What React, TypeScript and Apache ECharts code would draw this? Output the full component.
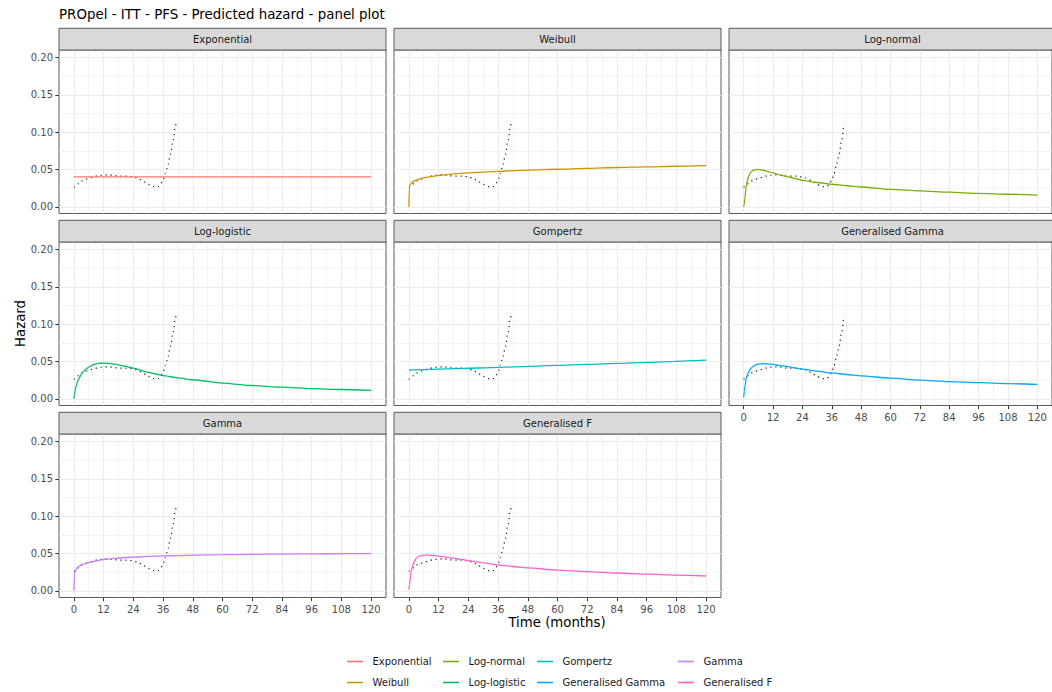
import React, { useEffect, useRef } from 'react';
import * as echarts from 'echarts';

const TITLE = 'PROpel - ITT - PFS - Predicted hazard - panel plot';
const X_TITLE = 'Time (months)';
const Y_TITLE = 'Hazard';

const MODEL_NAMES = ['Exponential', 'Weibull', 'Log-normal', 'Log-logistic', 'Gompertz', 'Generalised Gamma', 'Gamma', 'Generalised F'];
const MODEL_COLORS = ['#F8766D', '#CD9600', '#7CAE00', '#00BE67', '#00BFC4', '#00A9FF', '#C77CFF', '#FF61CC'];

// months at which the fitted hazards were read
const TIME_GRID = [0, 0.25, 0.5, 1, 1.5, 2, 3, 4, 5, 6, 8, 10, 12, 15, 18, 21, 24, 30, 36, 42, 48, 60, 72, 84, 96, 108, 120];

const exponential = [0.040, 0.040, 0.040, 0.040, 0.040, 0.040, 0.040, 0.040, 0.040, 0.040, 0.040, 0.040, 0.040, 0.040, 0.040, 0.040, 0.040, 0.040, 0.040, 0.040, 0.040, 0.040, 0.040, 0.040, 0.040, 0.040, 0.040];
const weibull = [0, 0.027, 0.0293, 0.0318, 0.0332, 0.0342, 0.0358, 0.037, 0.038, 0.0388, 0.040, 0.041, 0.042, 0.043, 0.044, 0.0448, 0.0455, 0.0465, 0.0475, 0.0483, 0.049, 0.0503, 0.0515, 0.0526, 0.0535, 0.0543, 0.055];
const logNormal = [0, 0.004, 0.012, 0.026, 0.035, 0.041, 0.0468, 0.049, 0.0498, 0.05, 0.0489, 0.0472, 0.0453, 0.0425, 0.040, 0.0378, 0.0355, 0.0325, 0.0302, 0.0282, 0.0265, 0.0232, 0.0212, 0.0195, 0.018, 0.0168, 0.0157];
const logLogistic = [0, 0.006, 0.011, 0.018, 0.023, 0.027, 0.033, 0.037, 0.040, 0.0425, 0.0458, 0.0474, 0.0478, 0.0472, 0.0455, 0.0433, 0.041, 0.0355, 0.031, 0.028, 0.0255, 0.021, 0.0178, 0.0155, 0.0137, 0.0124, 0.0113];
const gompertz = [0.0385, 0.0385, 0.0385, 0.0386, 0.0386, 0.0387, 0.0388, 0.0389, 0.039, 0.0391, 0.0393, 0.0395, 0.0397, 0.040, 0.0403, 0.0406, 0.0409, 0.0415, 0.0421, 0.0427, 0.0434, 0.0447, 0.046, 0.0474, 0.0488, 0.0502, 0.0517];
const genGamma = [0.002, 0.010, 0.017, 0.026, 0.032, 0.036, 0.041, 0.0438, 0.0455, 0.0465, 0.047, 0.0467, 0.046, 0.0445, 0.043, 0.0413, 0.0397, 0.037, 0.0346, 0.0325, 0.0307, 0.0276, 0.025, 0.0231, 0.0216, 0.0203, 0.0193];
const gamma = [0, 0.022, 0.026, 0.029, 0.031, 0.0325, 0.0345, 0.036, 0.037, 0.038, 0.0395, 0.0408, 0.0418, 0.043, 0.0439, 0.0446, 0.0452, 0.046, 0.0467, 0.0472, 0.0477, 0.0483, 0.0488, 0.0492, 0.0495, 0.0497, 0.0499];
const genF = [0.002, 0.008, 0.015, 0.026, 0.033, 0.038, 0.0435, 0.046, 0.0472, 0.0477, 0.0477, 0.0472, 0.0464, 0.0452, 0.0437, 0.0421, 0.0405, 0.0375, 0.0347, 0.0325, 0.0306, 0.0277, 0.0256, 0.0238, 0.0222, 0.0209, 0.0198];
const MODEL_VALUES = [exponential, weibull, logNormal, logLogistic, gompertz, genGamma, gamma, genF];

// observed (smoothed) hazard
const OBS_TIMES = [0, 2, 4, 6, 8, 10, 12, 14, 16, 18, 20, 22, 24, 26, 28, 30, 32, 34, 35, 36, 37, 38, 39, 40, 41, 41.2];
const OBS_HAZARD = [0.026, 0.031, 0.036, 0.038, 0.040, 0.042, 0.0425, 0.043, 0.042, 0.041, 0.041, 0.041, 0.040, 0.038, 0.034, 0.030, 0.027, 0.027, 0.030, 0.036, 0.045, 0.057, 0.070, 0.088, 0.108, 0.111];

const X_MAJOR = [0, 12, 24, 36, 48, 60, 72, 84, 96, 108, 120];
const X_MINOR = [6, 18, 30, 42, 54, 66, 78, 90, 102, 114];
const Y_MAJOR = [0, 0.05, 0.1, 0.15, 0.2];
const Y_MINOR = [0.025, 0.075, 0.125, 0.175];

const FONT = 'DejaVu Sans';
const COL_LEFT = [59, 394, 729];
const ROW_TOP = [50, 242, 434];
const PANEL_W = 327;
const PANEL_H = 163.5;
const STRIP_H = 21.7;
const LEG_X = [347, 443, 537, 678];

export default function App() {
  const ref = useRef<HTMLDivElement>(null);
  useEffect(() => {
    if (!ref.current) return;
    const chart = echarts.init(ref.current, undefined, { renderer: 'svg' });
    const grids: any[] = [];
    const xAxes: any[] = [];
    const yAxes: any[] = [];
    const series: any[] = [];
    const graphics: any[] = [];
    MODEL_NAMES.forEach((name, i) => {
      const row = Math.floor(i / 3);
      const col = i % 3;
      const left = COL_LEFT[col];
      const top = ROW_TOP[row];
      const showX = i >= 5;
      const showY = col === 0;
      grids.push({ left, top, width: PANEL_W, height: PANEL_H, show: true, borderColor: '#5a5a5a', borderWidth: 1, backgroundColor: '#fff' });
      xAxes.push({
        type: 'value', gridIndex: i, min: -6, max: 126, position: 'bottom',
        axisLine: { show: false, onZero: false },
        axisTick: { show: showX, customValues: X_MAJOR, length: 3.7, lineStyle: { color: '#333', width: 1 } },
        axisLabel: { show: showX, customValues: X_MAJOR, margin: 7, fontSize: 10, color: '#4d4d4d', fontFamily: FONT },
        splitLine: { show: true, lineStyle: { color: '#ebebeb', width: 1 } },
      });
      xAxes.push({
        type: 'value', gridIndex: i, min: -6, max: 126, position: 'top',
        axisLine: { show: false, onZero: false },
        axisTick: { show: false, customValues: X_MINOR },
        axisLabel: { show: false },
        splitLine: { show: true, lineStyle: { color: '#ebebeb', width: 0.6 } },
      });
      yAxes.push({
        type: 'value', gridIndex: i, min: -0.009, max: 0.21, position: 'left',
        axisLine: { show: false, onZero: false },
        axisTick: { show: showY, customValues: Y_MAJOR, length: 3.7, lineStyle: { color: '#333', width: 1 } },
        axisLabel: { show: showY, customValues: Y_MAJOR, margin: 6, fontSize: 10, color: '#4d4d4d', fontFamily: FONT, formatter: (v: number) => v.toFixed(2) },
        splitLine: { show: true, lineStyle: { color: '#ebebeb', width: 1 } },
      });
      yAxes.push({
        type: 'value', gridIndex: i, min: -0.009, max: 0.21, position: 'right',
        axisLine: { show: false, onZero: false },
        axisTick: { show: false, customValues: Y_MINOR },
        axisLabel: { show: false },
        splitLine: { show: true, lineStyle: { color: '#ebebeb', width: 0.6 } },
      });
      series.push({
        type: 'line', name: 'Observed', xAxisIndex: 2 * i, yAxisIndex: 2 * i,
        data: OBS_TIMES.map((t, k) => [t, OBS_HAZARD[k]]),
        symbol: 'none', smooth: 0.3, smoothMonotone: 'x',
        lineStyle: { color: '#222', width: 1.2, type: [1.2, 3.8] },
        z: 2,
      });
      series.push({
        type: 'line', name, xAxisIndex: 2 * i, yAxisIndex: 2 * i,
        data: TIME_GRID.map((t, k) => [t, MODEL_VALUES[i][k]]),
        symbol: 'none', smooth: 0.25, smoothMonotone: 'x',
        lineStyle: { color: MODEL_COLORS[i], width: 1.3 },
        itemStyle: { color: MODEL_COLORS[i] },
        z: 3,
      });
      graphics.push({
        type: 'rect', shape: { x: left, y: top - STRIP_H, width: PANEL_W, height: STRIP_H },
        style: { fill: '#d9d9d9', stroke: '#5a5a5a', lineWidth: 1 }, z: 10,
      });
      graphics.push({
        type: 'text', x: left + PANEL_W / 2, y: top - STRIP_H / 2 + 0.5, z: 11,
        style: { text: name, textAlign: 'center', textVerticalAlign: 'middle', fontSize: 10, fill: '#1a1a1a', fontFamily: FONT },
      });
    });
    graphics.push({
      type: 'text', x: 557, y: 622,
      style: { text: X_TITLE, textAlign: 'center', textVerticalAlign: 'middle', fontSize: 13.3, fill: '#000', fontFamily: FONT },
    });
    graphics.push({
      type: 'text', x: 20, y: 323.5, rotation: Math.PI / 2,
      style: { text: Y_TITLE, textAlign: 'center', textVerticalAlign: 'middle', fontSize: 13.3, fill: '#000', fontFamily: FONT },
    });
    graphics.push({
      type: 'text', x: 59, y: 14,
      style: { text: TITLE, textAlign: 'left', textVerticalAlign: 'middle', fontSize: 13.4, fill: '#000', fontFamily: FONT },
    });
    const legends = [0, 1, 2, 3].map((c) => ({
      orient: 'vertical', left: LEG_X[c], top: 656.5, padding: 0,
      data: [MODEL_NAMES[2 * c], MODEL_NAMES[2 * c + 1]].map((n) => ({ name: n, icon: 'rect', itemStyle: { color: MODEL_COLORS[MODEL_NAMES.indexOf(n)] } })),
      itemWidth: 16, itemHeight: 1.6, itemGap: 11, selectedMode: false,
      textStyle: { fontSize: 10, color: '#1a1a1a', fontFamily: FONT, padding: [0, 0, 0, 4.5] },
    }));
    chart.setOption({
      animation: false,
      backgroundColor: '#fff',
      textStyle: { fontFamily: FONT },
      grid: grids,
      xAxis: xAxes,
      yAxis: yAxes,
      series,
      legend: legends,
      graphic: graphics,
    });
    return () => chart.dispose();
  }, []);
  return <div ref={ref} style={{ position: 'absolute', left: 0, top: 0, width: 1052, height: 692 }} />;
}
